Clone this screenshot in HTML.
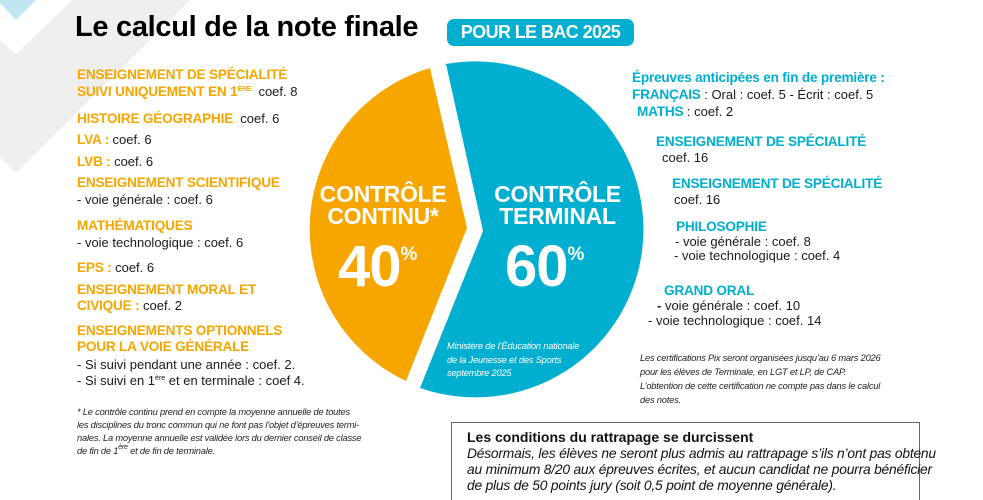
<!DOCTYPE html>
<html><head><meta charset="utf-8"><style>
*{margin:0;padding:0;box-sizing:border-box}
body{width:983px;height:500px;overflow:hidden;background:#fff;position:relative;font-family:"Liberation Sans",sans-serif;color:#1a1a1a}
.t{position:absolute;white-space:nowrap;line-height:1}
.o{color:#f7a600;font-weight:bold;font-size:13.6px;letter-spacing:-0.2px}
.b{color:#00aecf;font-weight:bold;font-size:13.6px;letter-spacing:-0.2px}
.n{font-size:13px}
.fi{font-style:italic;font-size:9.3px;color:#222;letter-spacing:-0.2px}
sup{font-size:7px;position:relative;top:-5px;vertical-align:baseline;line-height:0}
</style></head><body>
<svg width="983" height="500" style="position:absolute;left:0;top:0">
<polygon points="0,0 36,0 16,20 0,3" fill="#bfe6f1"/>
<polygon points="0,40 16,54 72,0 190,0 16,173 0,157" fill="#efefef"/>
<path d="M430,68 L467,228 L406,381 A168,168 0 0 1 430,68 Z" fill="#f7a600"/>
<path d="M446,64 A168,168 0 1 1 420,388 L483,231 Z" fill="#00afcf"/>
<rect x="447" y="19" width="187" height="27" rx="7" fill="#00aecf"/>
<rect x="451.5" y="422.5" width="468" height="90" fill="none" stroke="#666" stroke-width="1"/>
</svg>
<div class="t" style="left:75px;top:13px;font-size:29px;font-weight:bold;letter-spacing:-0.3px;color:#000">Le calcul de la note finale</div>
<div class="t" style="left:447px;top:23px;width:187px;text-align:center;font-size:18px;font-weight:bold;color:#fff;letter-spacing:-0.6px">POUR LE BAC 2025</div>

<div class="t o" style="left:77px;top:68px">ENSEIGNEMENT DE SPÉCIALITÉ</div>
<div class="t o" style="left:77px;top:85px">SUIVI UNIQUEMENT EN 1<sup>ÈRE</sup> <span class="n" style="color:#1a1a1a;font-weight:normal;letter-spacing:0">&nbsp;coef. 8</span></div>
<div class="t o" style="left:77px;top:112px">HISTOIRE GÉOGRAPHIE <span class="n" style="color:#1a1a1a;font-weight:normal;letter-spacing:0">&nbsp;coef. 6</span></div>
<div class="t o" style="left:77px;top:133px">LVA : <span class="n" style="color:#1a1a1a;font-weight:normal;letter-spacing:0">coef. 6</span></div>
<div class="t o" style="left:77px;top:155px">LVB : <span class="n" style="color:#1a1a1a;font-weight:normal;letter-spacing:0">coef. 6</span></div>
<div class="t o" style="left:77px;top:176px">ENSEIGNEMENT SCIENTIFIQUE</div>
<div class="t n" style="left:77px;top:193px">- voie générale : coef. 6</div>
<div class="t o" style="left:77px;top:219px">MATHÉMATIQUES</div>
<div class="t n" style="left:77px;top:236px">- voie technologique : coef. 6</div>
<div class="t o" style="left:77px;top:261px">EPS : <span class="n" style="color:#1a1a1a;font-weight:normal;letter-spacing:0">coef. 6</span></div>
<div class="t o" style="left:77px;top:283px">ENSEIGNEMENT MORAL ET</div>
<div class="t o" style="left:77px;top:299px">CIVIQUE : <span class="n" style="color:#1a1a1a;font-weight:normal;letter-spacing:0">coef. 2</span></div>
<div class="t o" style="left:77px;top:324px">ENSEIGNEMENTS OPTIONNELS</div>
<div class="t o" style="left:77px;top:340px">POUR LA VOIE GÉNÉRALE</div>
<div class="t n" style="left:77px;top:358px">- Si suivi pendant une année : coef. 2.</div>
<div class="t n" style="left:77px;top:374px">- Si suivi en 1<sup>ère</sup> et en terminale : coef 4.</div>
<div class="t fi" style="left:77px;top:406px;line-height:13px">* Le contrôle continu prend en compte la moyenne annuelle de toutes<br>les disciplines du tronc commun qui ne font pas l’objet d’épreuves termi-<br>nales. La moyenne annuelle est validée lors du dernier conseil de classe<br>de fin de 1<sup>ère</sup> et de fin de terminale.</div>

<div class="t" style="left:308px;top:183px;width:150px;text-align:center;color:#fff;font-weight:bold;font-size:23px;line-height:22px;letter-spacing:-0.3px">CONTRÔLE<br>CONTINU*</div>
<div class="t" style="left:338px;top:238px;color:#fff;font-weight:bold;font-size:58px;letter-spacing:-1px">40<span style="font-size:19px;position:relative;top:-26px">%</span></div>
<div class="t" style="left:485px;top:183px;width:145px;text-align:center;color:#fff;font-weight:bold;font-size:23px;line-height:22px;letter-spacing:-0.3px">CONTRÔLE<br>TERMINAL</div>
<div class="t" style="left:505px;top:238px;color:#fff;font-weight:bold;font-size:58px;letter-spacing:-1px">60<span style="font-size:19px;position:relative;top:-26px">%</span></div>
<div class="t fi" style="left:447px;top:340px;color:#fff;line-height:13.5px">Ministère de l’Éducation nationale<br>de la Jeunesse et des Sports<br>septembre 2025</div>

<div class="t b" style="left:632px;top:71px">Épreuves anticipées en fin de première :</div>
<div class="t b" style="left:632px;top:88px">FRANÇAIS <span class="n" style="color:#1a1a1a;font-weight:normal;letter-spacing:0">: Oral : coef. 5 - Écrit : coef. 5</span></div>
<div class="t b" style="left:637px;top:105px">MATHS <span class="n" style="color:#1a1a1a;font-weight:normal;letter-spacing:0">: coef. 2</span></div>
<div class="t b" style="left:656px;top:135px">ENSEIGNEMENT DE SPÉCIALITÉ</div>
<div class="t n" style="left:662px;top:151px">coef. 16</div>
<div class="t b" style="left:672px;top:177px">ENSEIGNEMENT DE SPÉCIALITÉ</div>
<div class="t n" style="left:674px;top:193px">coef. 16</div>
<div class="t b" style="left:676px;top:220px">PHILOSOPHIE</div>
<div class="t n" style="left:675px;top:235px">- voie générale : coef. 8</div>
<div class="t n" style="left:674px;top:249px">- voie technologique : coef. 4</div>
<div class="t b" style="left:664px;top:284px">GRAND ORAL</div>
<div class="t n" style="left:657px;top:299px"><b>-</b> voie générale : coef. 10</div>
<div class="t n" style="left:648px;top:314px">- voie technologique : coef. 14</div>
<div class="t fi" style="left:640px;top:351px;line-height:14px">Les certifications Pix seront organisées jusqu’au 6 mars 2026<br>pour les élèves de Terminale, en LGT et LP, de CAP.<br>L’obtention de cette certification ne compte pas dans le calcul<br>des notes.</div>

<div class="t" style="left:467px;top:430px;font-size:14px;font-weight:bold;color:#111">Les conditions du rattrapage se durcissent</div>
<div class="t" style="left:467px;top:446px;font-size:13.8px;font-style:italic;line-height:16px;color:#111;letter-spacing:-0.2px">Désormais, les élèves ne seront plus admis au rattrapage s’ils n’ont pas obtenu<br>au minimum 8/20 aux épreuves écrites, et aucun candidat ne pourra bénéficier<br>de plus de 50 points jury (soit 0,5 point de moyenne générale).</div>
</body></html>
